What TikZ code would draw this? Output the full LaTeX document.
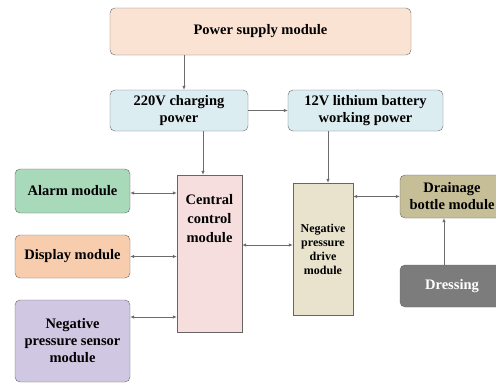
\documentclass[tikz,border=0pt]{standalone}
\usepackage{fontspec}
\setmainfont{Liberation Serif}
\usetikzlibrary{arrows.meta}

\definecolor{supplyfill}{HTML}{FBE3D3}
\definecolor{powerfill}{HTML}{DCEDF2}
\definecolor{alarmfill}{HTML}{A8D9B8}
\definecolor{displayfill}{HTML}{F8CDAE}
\definecolor{sensorfill}{HTML}{D0C7E2}
\definecolor{centralfill}{HTML}{F7DEDE}
\definecolor{drivefill}{HTML}{E9E3CD}
\definecolor{drainfill}{HTML}{C6BE96}
\definecolor{dressfill}{HTML}{7C7C7C}

\tikzset{
	module/.style={draw=gray!80!black, rounded corners=5pt, align=center,
		font=\fontsize{14.5}{17}\selectfont\bfseries, inner sep=2pt},
	block/.style={module, rounded corners=0pt},
	arr/.style={draw=gray!85!black, line width=0.7pt, -{Latex[length=4pt,width=3.5pt]}},
	biarr/.style={arr, {Latex[length=4pt,width=3.5pt]}-{Latex[length=4pt,width=3.5pt]}}
}

\begin{document}
\begin{tikzpicture}[x=1pt,y=-1pt]
	\useasboundingbox (0,0) rectangle (496,383);
	% power path
	\node[module, fill=supplyfill, minimum width=301, minimum height=47] (power) at (260.5,31.5) {Power supply module};
	\node[module, fill=powerfill, minimum width=138, minimum height=41] (charging) at (179,110.5) {220V charging\\power};
	\node[module, fill=powerfill, minimum width=155, minimum height=41] (battery) at (365.5,110.5) {12V lithium battery\\working power};
	% left column
	\node[module, fill=alarmfill, minimum width=115, minimum height=44] (alarm) at (72.5,191) {Alarm module};
	\node[module, fill=displayfill, minimum width=115, minimum height=43] (display) at (72.5,256.5) {Display module};
	\node[module, fill=sensorfill, minimum width=115, minimum height=82] (sensor) at (72.5,341) {Negative\\pressure sensor\\module};
	% control and drive
	\node[block, fill=centralfill, minimum width=65, minimum height=157] (central) at (209.5,253.5) {};
	\node[font=\fontsize{14.5}{19}\selectfont\bfseries, align=center, anchor=north, inner sep=0pt] (centraltext) at ([yshift=-19pt]central.north) {Central\\control\\module};
	\node[block, fill=drivefill, minimum width=60, minimum height=132, font=\fontsize{12}{14}\selectfont\bfseries] (drive) at (323,249) {Negative\\pressure\\drive\\module};
	% right column
	\node[module, fill=drainfill, minimum width=104, minimum height=43] (drainage) at (452,196.5) {Drainage\\bottle module};
	\node[module, fill=dressfill, text=white, minimum width=104, minimum height=42] (dressing) at (452,286) {Dressing};

	\draw[arr] ([xshift=5pt]charging.north |- power.south) -- ([xshift=5pt]charging.north);
	\draw[arr] (charging.east) -- (battery.west);
	\draw[arr] ([xshift=-6.5pt]central.north |- charging.south) -- ([xshift=-6.5pt]central.north);
	\draw[arr] ([xshift=5pt]drive.north |- battery.south) -- ([xshift=5pt]drive.north);
	\draw[biarr] ([yshift=-2pt]alarm.east) -- ([yshift=-2pt]alarm.east -| central.west);
	\draw[biarr] (display.east) -- (display.east -| central.west);
	\draw[biarr] ([yshift=24pt]sensor.east) -- ([yshift=24pt]sensor.east -| central.west);
	\draw[biarr] ([yshift=4pt]drive.west) -- ([yshift=4pt]drive.west -| central.east);
	\draw[biarr] (drive.east |- drainage.west) -- (drainage.west);
	\draw[arr] ([xshift=-8pt]dressing.north) -- ([xshift=-8pt]dressing.north |- drainage.south);
\end{tikzpicture}
\end{document}
